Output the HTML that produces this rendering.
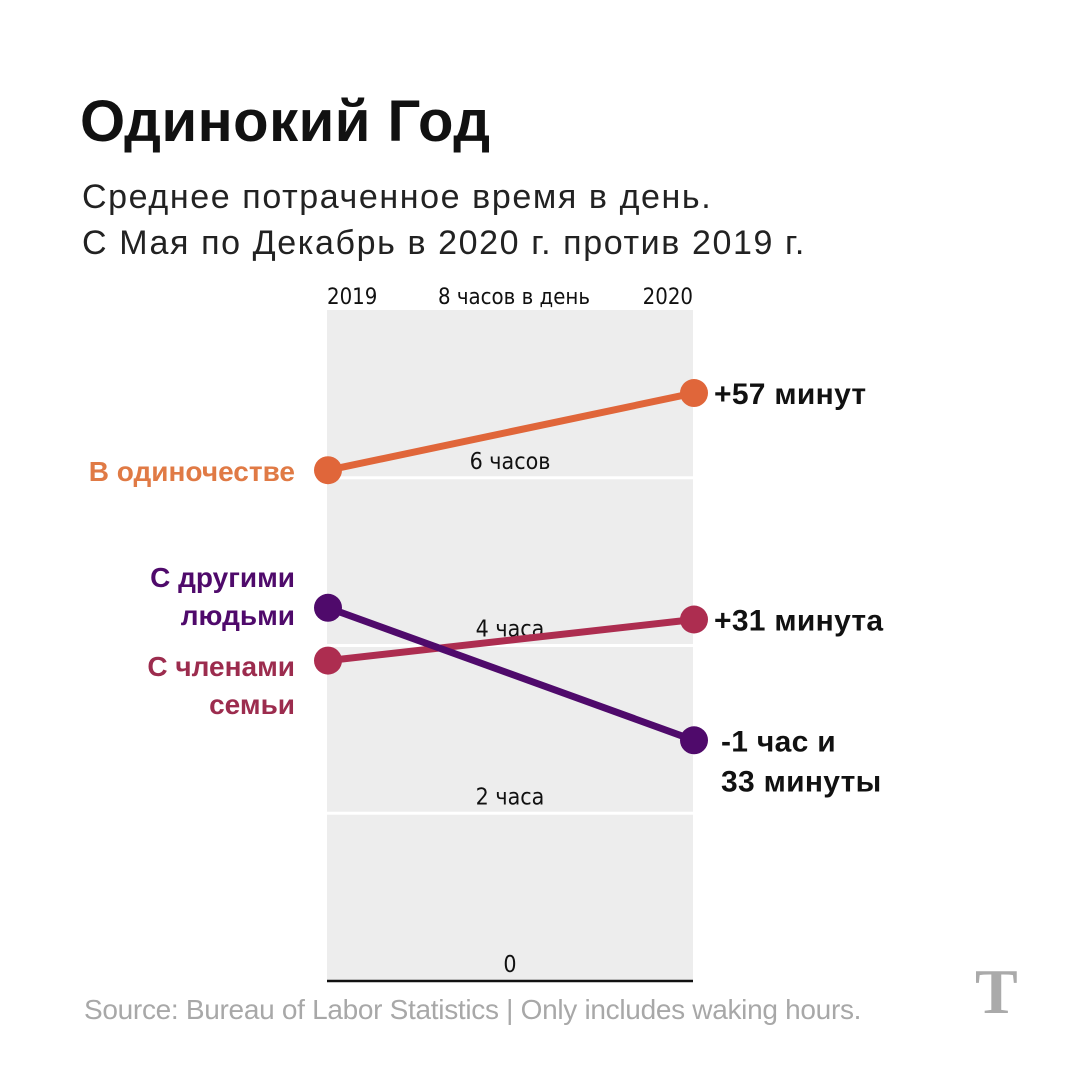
<!DOCTYPE html>
<html><head><meta charset="utf-8">
<style>
html,body{margin:0;padding:0;background:#fff;}
body{width:1080px;height:1080px;overflow:hidden;position:relative;font-family:"Liberation Sans","DejaVu Sans",sans-serif;}
.t{position:absolute;white-space:nowrap;}
</style></head><body>
<div class="t" style="left:80px;top:88px;font-size:58px;font-weight:bold;color:#111;letter-spacing:0.5px;">Одинокий Год</div>
<div class="t" style="left:82px;top:174px;font-size:34px;color:#222;line-height:46px;letter-spacing:1.6px;">Среднее потраченное время в день.<br>С Мая по Декабрь в 2020 г. против 2019 г.</div>
<svg id="chart" width="1080" height="1080" style="position:absolute;left:0;top:0;" xmlns="http://www.w3.org/2000/svg"></svg>
<div class="t" style="left:84px;top:994px;font-size:28px;color:#a8a8a8;letter-spacing:-0.3px;">Source: Bureau of Labor Statistics | Only includes waking hours.</div>
<div class="t" style="left:975px;top:955px;font-size:64px;font-family:'Liberation Serif',serif;font-weight:bold;color:#aaa;">T</div>
<script>
const years = ["2019","2020"];
const seriesNames = ["В одиночестве","С другими людьми","С членами семьи"];
const alone = [6.09, 7.01];
const others = [4.45, 2.87];
const family = [3.82, 4.31];
const ticks = [0, 2, 4, 6, 8];
const tickLabels = ["0","2 часа","4 часа","6 часов","8 часов в день"];
const changeLabels = [["+57 минут"],["-1 час и","33 минуты"],["+31 минута"]];

const NS="http://www.w3.org/2000/svg";
const svg=document.getElementById('chart');
const X0=327,X1=693,Y0=981,YT=310;
const xs=i=>X0+(X1-X0)*i/(years.length-1)+1;
const ys=v=>Y0-(Y0-YT)*v/8;
const FONT='DejaVu Sans Condensed, DejaVu Sans, sans-serif';
function mk(tag,attrs){const e=document.createElementNS(NS,tag);for(const k in attrs)e.setAttribute(k,attrs[k]);svg.appendChild(e);return e;}
let bg=mk('rect',{x:X0,y:YT,width:X1-X0,height:Y0-YT,fill:'#ededed'});


ticks.forEach((t,i)=>{
  if(t>0&&t<8){const g=mk('line',{x1:X0,x2:X1,y1:ys(t),y2:ys(t),stroke:'#fff','stroke-width':3});
  
  }
  const lb=mk('text',{x:(X0+X1)/2+(t===8?4:0),y:t===8?ys(t)-6:ys(t)-9,'text-anchor':'middle','font-size':t===8?22:23,fill:'#111','font-family':FONT});
  lb.textContent=tickLabels[i];
  
  
});
const base=mk('line',{x1:X0,x2:X1,y1:Y0,y2:Y0,stroke:'#111','stroke-width':2.5});


years.forEach((y,i)=>{const t=mk('text',{x:i===0?X0:X1,y:ys(8)-6,'text-anchor':i===0?'start':'end','font-size':22,fill:'#111','font-family':FONT});t.textContent=y;

});
const S=[
 {d:alone,c:'#e0663a',name:'alone',left:[seriesNames[0]],lc:'#e07a45',ch:changeLabels[0],ly:[481]},
 {d:family,c:'#ad2d50',name:'family',left:['С членами','семьи'],lc:'#9c2c4e',ch:changeLabels[2],ly:[676,714]},
 {d:others,c:'#4f0a6b',name:'others',left:['С другими','людьми'],lc:'#4f0a6b',ch:changeLabels[1],ly:[587,625]}
];
S.forEach(s=>{
  const l=mk('line',{x1:xs(0),y1:ys(s.d[0]),x2:xs(1),y2:ys(s.d[1]),stroke:s.c,'stroke-width':7});
  
  
  s.d.forEach((v,i)=>{const c=mk('circle',{cx:xs(i),cy:ys(v),r:14,fill:s.c});
  
  });
});
S.forEach(s=>{
  s.left.forEach((line,k)=>{
    const t=mk('text',{x:295,y:s.ly[k],'text-anchor':'end','font-size':28,'font-weight':'bold',fill:s.lc});
    t.textContent=line;
    
    
  });
  s.ch.forEach((line,k)=>{
    const t=mk('text',{x:s.name==='others'?721:714,y:ys(s.d[1])+11+k*40,'font-size':30,'font-weight':'bold',fill:'#111','letter-spacing':0.3});
    t.textContent=line;
    
    
  });
});
</script>
</body></html>
